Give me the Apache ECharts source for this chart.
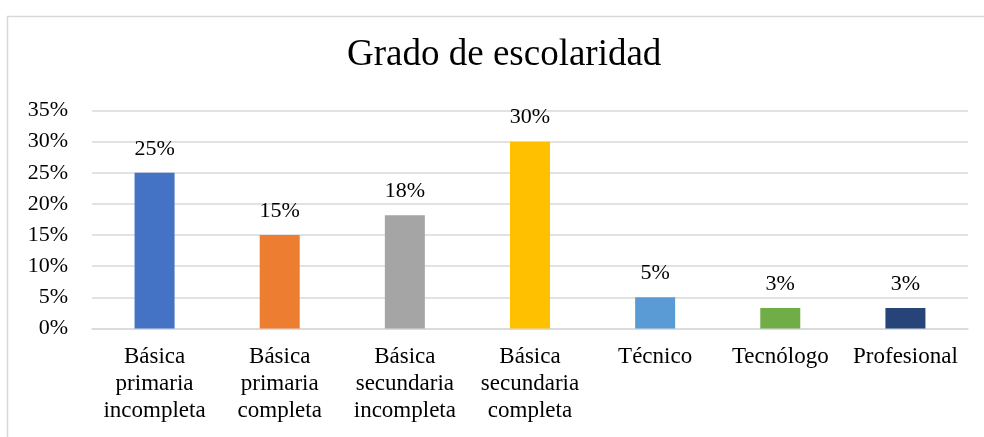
<!DOCTYPE html>
<html>
<head>
<meta charset="utf-8">
<script src="https://cdn.jsdelivr.net/npm/echarts@6/dist/echarts.min.js"></script>
<style>
html,body{margin:0;padding:0;background:#fff;}
#chart{width:984px;height:437px;}
</style>
</head>
<body>
<div id="chart"></div>
<script>
const titleText = 'Grado de escolaridad';
const categories = ['Básica\nprimaria\nincompleta', 'Básica\nprimaria\ncompleta', 'Básica\nsecundaria\nincompleta', 'Básica\nsecundaria\ncompleta', 'Técnico', 'Tecnólogo', 'Profesional'];
const values = [0.25, 0.15, 0.182, 0.30, 0.05, 0.033, 0.033];
const barColors = ['#4472C4', '#ED7D31', '#A5A5A5', '#FFC000', '#5B9BD5', '#70AD47', '#264478'];
const yMin = 0, yMax = 0.35, yStep = 0.05;

const font = '"Liberation Serif", "Times New Roman", serif';
const chart = echarts.init(document.getElementById('chart'));
chart.setOption({
  animation: false,
  backgroundColor: '#fff',
  graphic: [{
    type: 'rect', left: 5, top: 14, z: -1,
    shape: { x: 0, y: 0, width: 1100, height: 600 },
    style: { fill: 'none', stroke: '#d9d9d9', lineWidth: 1.5 }
  }],
  title: {
    text: titleText, left: 347, top: 37, padding: 0,
    textStyle: { fontFamily: font, fontSize: 37, fontWeight: 'normal', color: '#000' }
  },
  grid: { left: 92, right: 16, top: 110.5, bottom: 108.5, containLabel: false },
  xAxis: {
    type: 'category', data: categories,
    axisLine: { show: true, lineStyle: { color: '#d9d9d9', width: 1.5 } },
    axisTick: { show: false },
    axisLabel: { interval: 0, margin: 15, fontFamily: font, fontSize: 23, lineHeight: 27, color: '#000' }
  },
  yAxis: {
    type: 'value', min: yMin, max: yMax, interval: yStep,
    axisLine: { show: false }, axisTick: { show: false },
    splitLine: { lineStyle: { color: '#d9d9d9', width: 1.5 } },
    axisLabel: { margin: 24, fontFamily: font, fontSize: 22, color: '#000',
      formatter: v => Math.round(v * 100) + '%' }
  },
  series: [{
    type: 'bar', barWidth: 40,
    data: values.map((v, i) => ({ value: v, itemStyle: { color: barColors[i] } })),
    label: { show: true, position: 'top', distance: 13, fontFamily: font, fontSize: 22, color: '#000',
      formatter: p => Math.round(p.value * 100) + '%' }
  }]
});
</script>
</body>
</html>
